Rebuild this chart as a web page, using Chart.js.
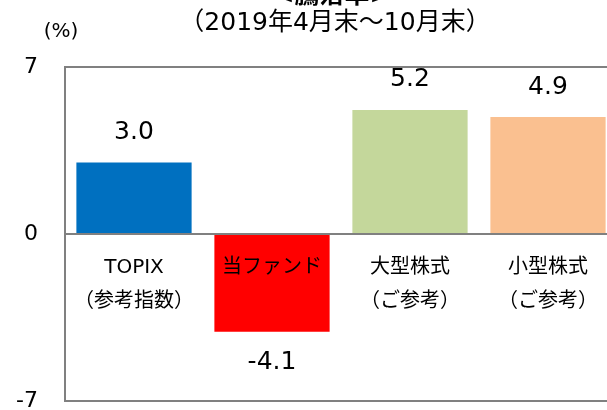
<!DOCTYPE html>
<html>
<head>
<meta charset="utf-8">
<script src="https://cdn.jsdelivr.net/npm/chart.js@4"></script>
<style>
  html, body { margin: 0; padding: 0; background: #fff; overflow: hidden; }
  canvas { display: block; }
</style>
</head>
<body>
<canvas id="myChart" width="625" height="410" style="width:625px;height:410px"></canvas>
<script>
// data
const categories = [['TOPIX', '（参考指数）'], ['当ファンド'], ['大型株式', '（ご参考）'], ['小型株式', '（ご参考）']];
const returns = [3.0, -4.1, 5.2, 4.9];
const barColors = ['#0070C0', '#FF0000', '#C4D79B', '#FAC090'];
const yTicks = [-7, 0, 7];
const titleLines = ['<騰落率>', '（2019年4月末～10月末）'];
const unitLabel = '(%)';

const FONT = '"DejaVu Sans", "Noto Sans CJK JP", sans-serif';

// frame, zero line, tick labels, value labels, category labels, title
const decorations = {
  id: 'decorations',
  afterDatasetsDraw(chart) {
    const ctx = chart.ctx;
    const area = chart.chartArea;
    const x = chart.scales.x, y = chart.scales.y;
    ctx.save();
    ctx.strokeStyle = '#808080';
    ctx.lineWidth = 2;
    ctx.strokeRect(area.left, area.top, area.right - area.left, area.bottom - area.top);
    ctx.beginPath();
    ctx.moveTo(area.left, y.getPixelForValue(0));
    ctx.lineTo(area.right, y.getPixelForValue(0));
    ctx.stroke();

    ctx.fillStyle = '#000';
    ctx.textBaseline = 'middle';

    // y tick labels
    ctx.textAlign = 'right';
    ctx.font = '22px ' + FONT;
    yTicks.forEach(v => ctx.fillText(String(v), 38, y.getPixelForValue(v)));

    ctx.textAlign = 'center';
    // value labels
    ctx.font = '25px ' + FONT;
    returns.forEach((v, i) => {
      const px = x.getPixelForValue(i);
      const py = y.getPixelForValue(v) + (v >= 0 ? -30 : 31);
      ctx.fillText(v.toFixed(1), px, py);
    });

    // category labels under the zero line
    ctx.font = '20px ' + FONT;
    const y0 = y.getPixelForValue(0);
    categories.forEach((lines, i) => {
      const px = x.getPixelForValue(i);
      lines.forEach((t, j) => ctx.fillText(t, px, y0 + 34 + j * 34));
    });

    // titles
    ctx.font = 'bold 25px ' + FONT;
    ctx.fillText(titleLines[0], 332, -4);
    ctx.font = '25px ' + FONT;
    ctx.fillText(titleLines[1], 335, 23);
    ctx.font = '20px ' + FONT;
    ctx.fillText(unitLabel, 61, 32);
    ctx.restore();
  }
};

new Chart(document.getElementById('myChart'), {
  type: 'bar',
  data: {
    labels: categories,
    datasets: [{
      data: returns,
      backgroundColor: barColors,
      borderWidth: 0,
      categoryPercentage: 1,
      barPercentage: 0.835
    }]
  },
  options: {
    responsive: false,
    animation: false,
    layout: { padding: { top: 67, bottom: 9, left: 65, right: 8 } },
    plugins: { legend: { display: false }, tooltip: { enabled: false } },
    scales: {
      x: { display: false },
      y: {
        display: false,
        min: -7,
        max: 7
      }
    }
  },
  plugins: [decorations]
});
</script>
</body>
</html>
